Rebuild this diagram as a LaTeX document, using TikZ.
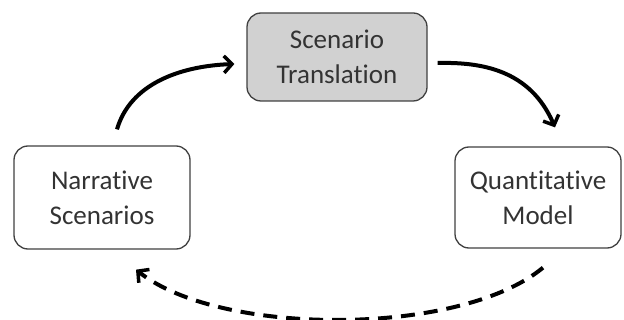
\documentclass[tikz,border=0pt]{standalone}
\usepackage{fontspec}
\setmainfont{Carlito}[RawFeature={-liga}]
\usetikzlibrary{arrows.meta}
\begin{document}
\begin{tikzpicture}[x=1pt,y=-1pt,
  stagebox/.style={draw=black!75, line width=1.3pt, rounded corners=14pt,
    inner sep=0pt, align=center, text=black!80,
    font=\fontsize{27}{35}\selectfont},
  flow/.style={line width=4pt, black,
    -{Straight Barb[length=8pt,width=17pt,line width=3.5pt]}},
  back/.style={flow, dash pattern=on 14pt off 9pt}]
  \useasboundingbox (0,0) rectangle (624,320);

  % the three stages of the cycle
  \node[stagebox, fill=black!18, minimum width=180pt, minimum height=88pt]
    (trans) at (337,57) {Scenario\\Translation};
  \node[stagebox, fill=white, minimum width=176pt, minimum height=103pt]
    (narr) at (102,197.5) {Narrative\\Scenarios};
  \node[stagebox, fill=white, minimum width=166pt, minimum height=101pt]
    (quant) at (538,197.5) {Quantitative\\Model};

  % connector end points next to the boxes
  \coordinate (l1) at ([xshift=15pt,yshift=16pt]narr.north);
  \coordinate (l2) at ([xshift=-12pt,yshift=-7pt]trans.west);
  \coordinate (r1) at ([xshift=10pt,yshift=-6pt]trans.east);
  \coordinate (r2) at ([xshift=17pt,yshift=19pt]quant.north);
  \coordinate (d1) at ([xshift=5pt,yshift=-19pt]quant.south);
  \coordinate (d2) at ([xshift=34pt,yshift=-20pt]narr.south);

  \draw[flow] (l1) .. controls +(13,-45) and +(-55,2) .. (l2);
  \draw[flow] (r1) .. controls +(43,-1) and +(-25,-58) .. (r2);
  \draw[back] (d1) .. controls +(-83,69) and +(84,67) .. (d2);
\end{tikzpicture}
\end{document}
